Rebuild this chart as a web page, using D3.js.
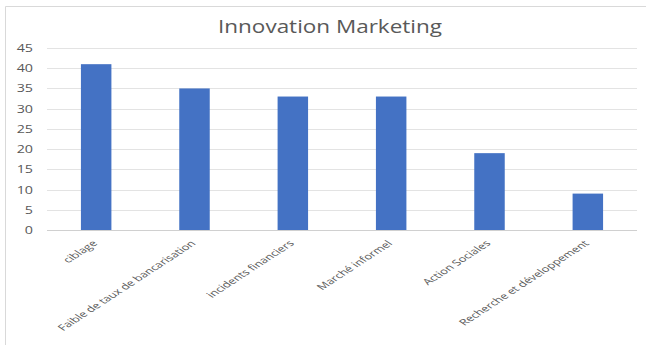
<!DOCTYPE html>
<html>
<head>
<meta charset="utf-8">
<script src="https://cdn.jsdelivr.net/npm/d3@7"></script>
<style>
  html, body { margin: 0; padding: 0; background: #fff; }
  svg { display: block; font-family: "Open Sans", "Liberation Sans", sans-serif; }
</style>
</head>
<body>
<svg id="chart" width="646" height="345"></svg>
<script>
"use strict";

const categories = [
  "ciblage",
  "Faible de taux de bancarisation",
  "incidents financiers",
  "Marché informel",
  "Action Sociales",
  "Recherche et développement"
];
const values = [41, 35, 33, 33, 19, 9];
const yTicks = [0, 5, 10, 15, 20, 25, 30, 35, 40, 45];
const chartTitle = "Innovation Marketing";

const svg = d3.select("#chart");
const width = 646, height = 345;
const margin = { top: 48, right: 9, bottom: 115, left: 47 };
const textColor = "#595959";
// the reference picture is stretched sideways, so text is too
const stretch = 1.3;

// chart frame (only top and left edges are visible in the picture)
svg.append("path")
  .attr("d", `M5.5,${height}V6.5H${width}`)
  .attr("fill", "none")
  .attr("stroke", "#d9d9d9")
  .attr("stroke-width", 1);

svg.append("text")
  .attr("transform", `translate(330,33) scale(1.25,1)`)
  .attr("text-anchor", "middle")
  .attr("font-size", 18)
  .attr("fill", textColor)
  .text(chartTitle);

const x = d3.scaleBand()
  .domain(categories)
  .range([margin.left, width - margin.right])
  .paddingInner(0.69)
  .paddingOuter(0.345);

const y = d3.scaleLinear()
  .domain([0, 45])
  .range([height - margin.bottom, margin.top]);

// gridlines
svg.append("g")
  .selectAll("line")
  .data(yTicks)
  .join("line")
  .attr("x1", margin.left)
  .attr("x2", width - margin.right)
  .attr("y1", d => Math.round(y(d)) + 0.5)
  .attr("y2", d => Math.round(y(d)) + 0.5)
  .attr("stroke", d => d === 0 ? "#d0d0d0" : "#e3e3e3")
  .attr("stroke-width", 1);

// y axis labels
const yAxis = d3.axisLeft(y).tickValues(yTicks).tickSize(0);
svg.append("g")
  .attr("transform", `translate(${margin.left},0)`)
  .call(yAxis)
  .call(g => g.select(".domain").remove())
  .call(g => g.selectAll("text")
    .attr("x", 0)
    .attr("transform", `translate(-14,0) scale(${stretch},1)`)
    .attr("font-size", 11)
    .attr("fill", textColor)
    .attr("font-family", "Open Sans, Liberation Sans, sans-serif"));

// bars
svg.append("g")
  .selectAll("rect")
  .data(values)
  .join("rect")
  .attr("x", (d, i) => x(categories[i]))
  .attr("y", d => y(d))
  .attr("width", x.bandwidth())
  .attr("height", d => y(0) - y(d))
  .attr("fill", "#4472c4");

// x axis labels, rotated
const xAxis = d3.axisBottom(x).tickSize(0).tickPadding(0);
svg.append("g")
  .attr("transform", `translate(0,${y(0)})`)
  .call(xAxis)
  .call(g => g.select(".domain").remove())
  .call(g => g.selectAll("text")
    .attr("y", 0)
    .attr("dy", "0")
    .attr("font-size", 10)
    .attr("fill", textColor)
    .attr("font-family", "Open Sans, Liberation Sans, sans-serif")
    .attr("text-anchor", "end")
    .attr("transform", `translate(2,14) scale(${stretch},0.85) rotate(-45)`));
</script>
</body>
</html>
